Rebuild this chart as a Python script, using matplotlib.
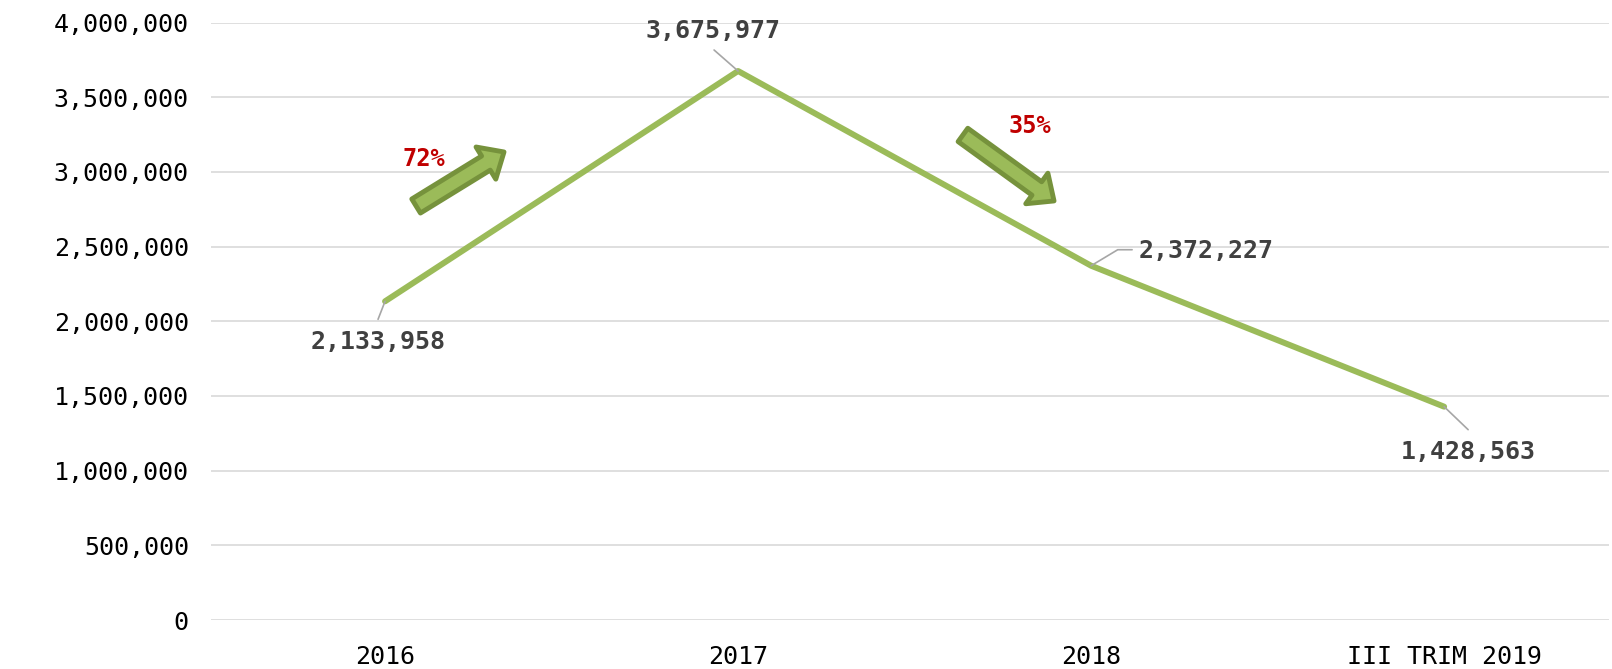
import matplotlib
matplotlib.use("Agg")
import matplotlib.pyplot as plt
from matplotlib.ticker import FuncFormatter

# data
periods = ['2016', '2017', '2018', 'III TRIM 2019']
totals = [2133958, 3675977, 2372227, 1428563]
changes = ['72%', '35%']

line_green = '#9BBB59'
dark_green = '#76923C'
label_grey = '#404040'
red = '#C00000'

plt.rcParams['font.family'] = ['DejaVu Sans Mono']

fig = plt.figure(figsize=(16.12, 6.69), dpi=100)
ax = fig.add_axes([211 / 1612, 0.0732, 1398 / 1612, 0.8930])

x = list(range(len(periods)))
ax.plot(x, totals, color=line_green, lw=4.3, solid_capstyle='round', zorder=3)

ax.set_xlim(-0.493, 3.467)
ax.set_ylim(0, 4000000)
ax.set_yticks(range(0, 4000001, 500000))
ax.yaxis.set_major_formatter(FuncFormatter(lambda v, p: f'{int(v):,}'))
ax.set_xticks(x)
ax.set_xticklabels(periods)
ax.tick_params(axis='both', length=0, labelsize=18, colors='black')
ax.tick_params(axis='y', pad=16)
ax.tick_params(axis='x', pad=18)
ax.grid(axis='y', color='#D9D9D9', lw=1.2)
ax.set_axisbelow(True)
for s in ax.spines.values():
    s.set_visible(False)

# data labels with leader lines (offsets in pixels)
offsets = [(-7, -41), (-25, 40), (48, 15), (24, -45)]
aligns = ['center', 'center', 'left', 'center']
leaders = [(-7, -18), (-24, 21), (41, 16), (24, -23)]
bends = [None, None, 'angle,angleA=0,angleB=31,rad=0', None]
for xi, yi, off, al, ld, cs in zip(x, totals, offsets, aligns, leaders, bends):
    props = dict(arrowstyle='-', color='#A6A6A6', lw=1.2, shrinkA=0, shrinkB=0)
    if cs:
        props['connectionstyle'] = cs
    ax.annotate('', xy=(xi, yi), xytext=ld, textcoords='offset pixels', arrowprops=props)
    ax.annotate(f'{yi:,}', xy=(xi, yi), xytext=off, textcoords='offset pixels',
                ha=al, va='center', fontsize=18, color=label_grey, fontweight='bold')

# change arrows
arrow_style = 'simple,head_length=0.9,head_width=1.6,tail_width=0.7'
ax.annotate('', xy=(0.337, 3134000), xytext=(0.088, 2772000),
            arrowprops=dict(arrowstyle=arrow_style, fc=line_green, ec=dark_green, lw=3.5,
                            mutation_scale=17, shrinkA=0, shrinkB=0))
ax.annotate('', xy=(1.895, 2806000), xytext=(1.637, 3248000),
            arrowprops=dict(arrowstyle=arrow_style, fc=line_green, ec=dark_green, lw=3.5,
                            mutation_scale=17, shrinkA=0, shrinkB=0))
ax.text(0.110, 3087000, changes[0], color=red, fontsize=17, fontweight='bold',
        ha='center', va='center')
ax.text(1.827, 3308000, changes[1], color=red, fontsize=17, fontweight='bold',
        ha='center', va='center')

fig.savefig('out.png', dpi=100)
